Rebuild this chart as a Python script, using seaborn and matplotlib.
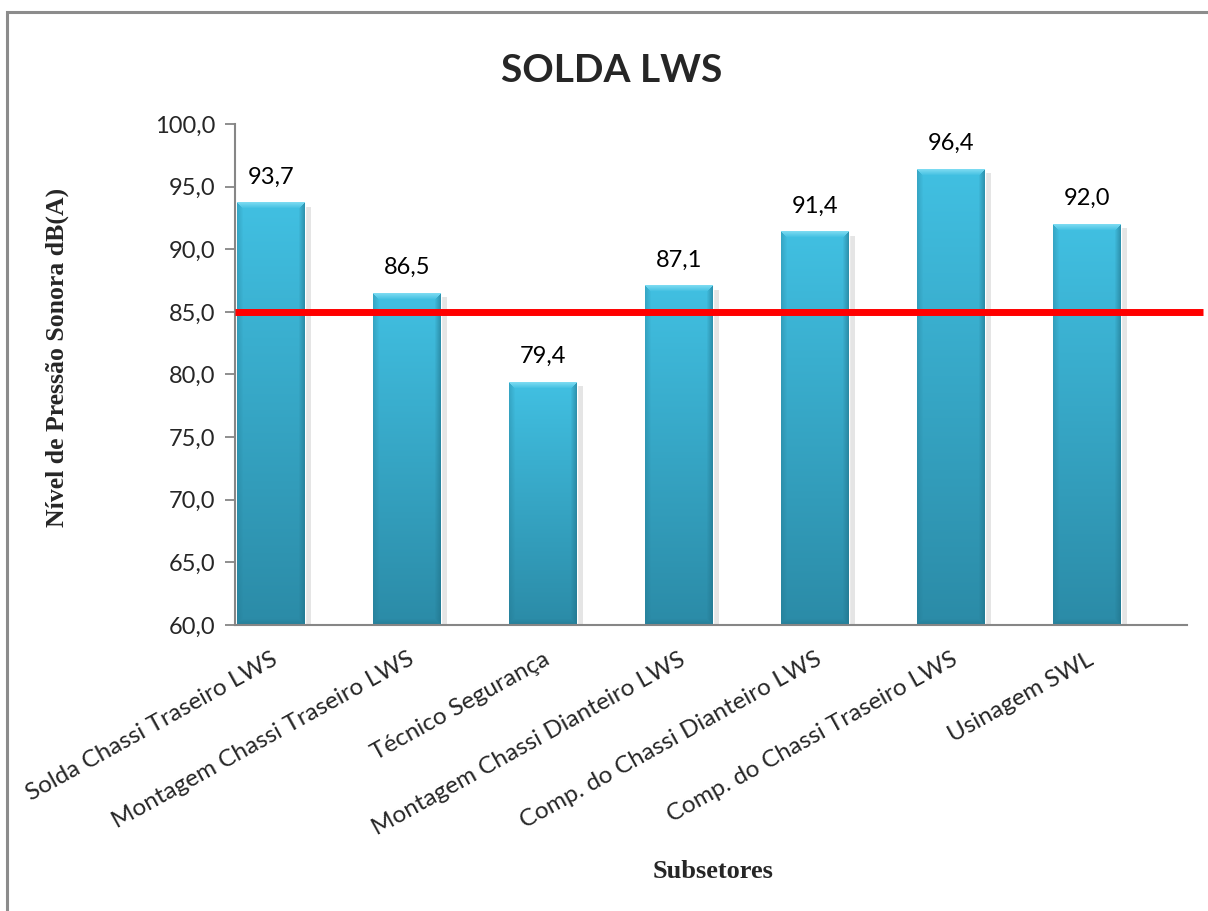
import numpy as np
import pandas as pd
import matplotlib
matplotlib.use("Agg")
import matplotlib.pyplot as plt
import matplotlib.patheffects as pe
from matplotlib.patches import Rectangle
from matplotlib.colors import to_rgb
import seaborn as sns

# Noise levels per subsector, dB(A)
subsetores = [
    "Solda Chassi Traseiro LWS",
    "Montagem Chassi Traseiro LWS",
    "Técnico Segurança",
    "Montagem Chassi Dianteiro LWS",
    "Comp. do Chassi Dianteiro LWS",
    "Comp. do Chassi Traseiro LWS",
    "Usinagem SWL",
]
nivel_db = [93.7, 86.5, 79.4, 87.1, 91.4, 96.4, 92.0]
limite_db = 85.0
y_ticks = [60, 65, 70, 75, 80, 85, 90, 95, 100]

sns.set_theme(style="white")
plt.rcParams["font.family"] = ["Lato", "DejaVu Sans"]

W, H = 1208, 911
fig = plt.figure(figsize=(W / 100, H / 100), dpi=100)
fig.patch.set_facecolor("white")
ax = fig.add_axes([235 / W, 1 - 625 / H, (1187 - 235) / W, (625 - 124) / H])

df = pd.DataFrame({"Subsetor": subsetores, "dB": nivel_db})
sns.barplot(data=df, x="Subsetor", y="dB", color="#3cb8dc", width=0.5,
            saturation=1, ax=ax, zorder=2)

ymin, ymax = y_ticks[0], y_ticks[-1]
# categories sit toward the left of the category axis
x_lim = (-0.265, len(subsetores) - 0.265)


def bar_image(n_rows, n_cols):
    """Bevelled vertical gradient for one bar."""
    top = np.array(to_rgb("#41c0e2"))
    bot = np.array(to_rgb("#2b8ba7"))
    t = np.linspace(0, 1, n_rows)[:, None, None]  # 0 bottom -> 1 top
    img = bot + (top - bot) * t
    img = np.repeat(img, n_cols, axis=1)
    bev = 6
    rows = np.arange(n_rows)[:, None]
    cols = np.arange(n_cols)[None, :]
    dist_top = n_rows - 1 - rows
    dist_bot = rows
    dist_l = cols
    dist_r = n_cols - 1 - cols
    light = np.array(to_rgb("#8ee3f6"))
    dark = np.array(to_rgb("#1f6f86"))
    # top bevel
    m = (dist_top < bev) & (dist_top <= dist_l) & (dist_top <= dist_r)
    f = (1 - dist_top / bev) * 0.75
    img = np.where(m[..., None], img * (1 - f[..., None]) + light * f[..., None], img)
    # bottom bevel
    m = (dist_bot < bev) & (dist_bot <= dist_l) & (dist_bot <= dist_r)
    f = np.broadcast_to((1 - dist_bot / bev) * 0.45, (n_rows, n_cols))
    img = np.where(m[..., None], img * (1 - f[..., None]) + dark * f[..., None], img)
    # right bevel
    m = (dist_r < bev) & (dist_r < dist_top) & (dist_r < dist_bot)
    f = np.broadcast_to((1 - dist_r / bev) * 0.55, (n_rows, n_cols))
    img = np.where(m[..., None], img * (1 - f[..., None]) + dark * f[..., None], img)
    # left bevel
    m = (dist_l < bev) & (dist_l < dist_top) & (dist_l < dist_bot)
    f = np.broadcast_to((1 - dist_l / bev) * 0.3, (n_rows, n_cols))
    img = np.where(m[..., None], img * (1 - f[..., None]) + dark * f[..., None], img)
    return np.clip(img, 0, 1)


px_per_unit = (625 - 124) / (ymax - ymin)
for patch in ax.patches:
    x0, w, v = patch.get_x(), patch.get_width(), patch.get_height()
    patch.set_path_effects([
        pe.SimplePatchShadow(offset=(4, -3), shadow_rgbFace="#b5b5b5", alpha=0.35),
        pe.Normal(),
    ])
    n_rows = max(int(round((v - ymin) * px_per_unit)), 2)
    n_cols = int(round(w * 136))
    ax.imshow(bar_image(n_rows, n_cols), extent=[x0, x0 + w, ymin, v],
              origin="lower", aspect="auto", zorder=2.5, interpolation="bilinear")
    ax.annotate(f"{v:.1f}".replace(".", ","), xy=(x0 + w / 2, v),
                xytext=(0, 19), textcoords="offset pixels",
                ha="center", va="baseline", fontsize=17, color="black")

ax.set_xlim(*x_lim)
ax.set_ylim(ymin, ymax)

# Exposure limit line, running past the plot area on the right
ax.plot([0, (1203 - 235) / (1187 - 235)], [limite_db, limite_db],
        transform=ax.get_yaxis_transform(), color="#ff0000", lw=5,
        solid_capstyle="butt", clip_on=False, zorder=5)

ax.set_yticks(y_ticks)
ax.set_yticklabels([f"{t:.1f}".replace(".", ",") for t in y_ticks], fontsize=17)
ax.tick_params(axis="y", left=True, length=7, width=1.3, color="#868686",
               direction="out", pad=7)
ax.tick_params(axis="x", bottom=False, pad=11)
ax.set_xticks(range(len(subsetores)))
ax.set_xticklabels(subsetores, rotation=29, ha="right", rotation_mode="anchor",
                   fontsize=17.5)
ax.set_xlabel("")
ax.set_ylabel("")
for side in ["top", "right"]:
    ax.spines[side].set_visible(False)
for side in ["left", "bottom"]:
    ax.spines[side].set_color("#868686")
    ax.spines[side].set_linewidth(1.5)
ax.grid(False)

fig.text(612 / W, 1 - 70 / H, "SOLDA LWS", ha="center", va="center",
         fontsize=28, fontweight="bold")
fig.text(57 / W, 1 - 357 / H, "Nível de Pressão Sonora dB(A)", rotation=90,
         ha="center", va="center", fontsize=18.5, fontweight="bold",
         family=["Liberation Serif", "DejaVu Serif"])
fig.text(713 / W, 1 - 872 / H, "Subsetores", ha="center", va="center",
         fontsize=19, fontweight="bold",
         family=["Liberation Serif", "DejaVu Serif"])

# Chart-area frame
fig.patches.append(Rectangle((7 / W, -0.05), 1.1, 1 - 12 / H + 0.05,
                             transform=fig.transFigure, fill=False,
                             edgecolor="#8c8c8c", lw=2.2, zorder=0))

fig.savefig("out.png", dpi=100)
